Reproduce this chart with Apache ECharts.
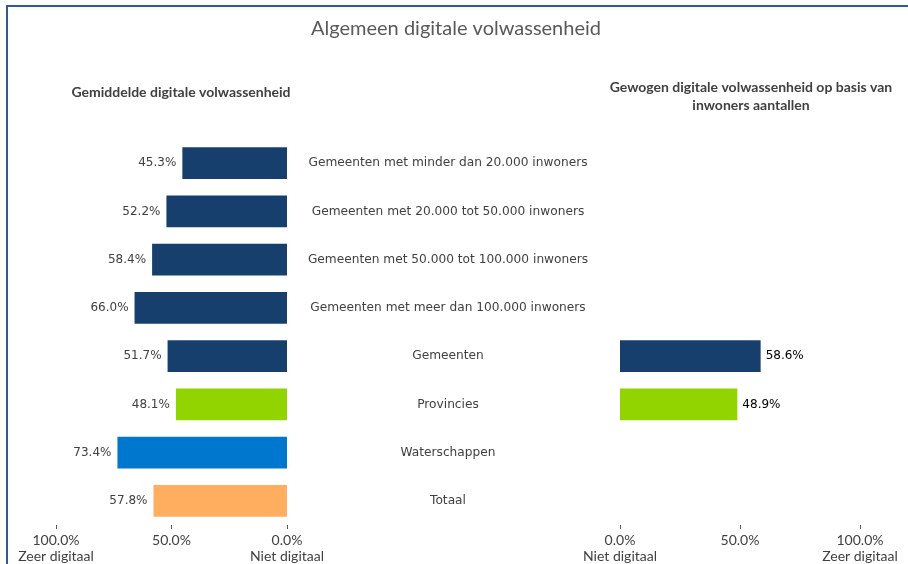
<!DOCTYPE html>
<html>
<head>
<meta charset="utf-8">
<script src="https://cdn.jsdelivr.net/npm/echarts@6/dist/echarts.min.js"></script>
<style>
  html, body { margin: 0; padding: 0; background: #fff; }
  #chart { width: 908px; height: 564px; }
</style>
</head>
<body>
<div id="chart"></div>
<script>
// categorieen (van boven naar beneden)
var categories = [
    'Gemeenten met minder dan 20.000 inwoners',
    'Gemeenten met 20.000 tot 50.000 inwoners',
    'Gemeenten met 50.000 tot 100.000 inwoners',
    'Gemeenten met meer dan 100.000 inwoners',
    'Gemeenten',
    'Provincies',
    'Waterschappen',
    'Totaal'
];
// gemiddelde digitale volwassenheid (%)
var gemiddeld = [45.3, 52.2, 58.4, 66.0, 51.7, 48.1, 73.4, 57.8];
// gewogen op basis van inwoners aantallen (%)
var gewogen = [null, null, null, null, 58.6, 48.9, null, null];
// kleur per categorie
var barColors = ['#173f6e', '#173f6e', '#173f6e', '#173f6e', '#173f6e', '#92d400', '#0077cf', '#ffae60'];
var tickLabels = { 0: 'Niet digitaal', 100: 'Zeer digitaal' };

var myChart = echarts.init(document.getElementById('chart'));

function colored(values) {
    return values.map(function (v, i) {
        return { value: v, itemStyle: { color: barColors[i] } };
    });
}

function axisFmt(v) {
    var s = v.toFixed(1) + '%';
    if (tickLabels[v]) { s += '\n' + tickLabels[v]; }
    return s;
}

var valueAxisCommon = {
    type: 'value',
    min: 0,
    max: 100,
    interval: 50,
    splitLine: { show: false },
    axisLine: { show: false },
    axisTick: { show: true, length: 4, lineStyle: { color: '#595959' } },
    axisLabel: {
        formatter: axisFmt,
        color: '#404040',
        fontFamily: 'Lato',
        fontSize: 14,
        lineHeight: 16,
        margin: 7
    }
};

var option = {
    animation: false,
    textStyle: { fontFamily: 'DejaVu Sans' },
    title: [
        {
            text: 'Algemeen digitale volwassenheid',
            left: 451, top: 14, textAlign: 'center',
            textStyle: { fontFamily: 'Lato', fontSize: 20, fontWeight: 'normal', color: '#595959' }
        },
        {
            text: 'Gemiddelde digitale volwassenheid',
            left: 176, top: 80, textAlign: 'center',
            textStyle: { fontFamily: 'Lato', fontSize: 14, fontWeight: 'bold', color: '#404040' }
        },
        {
            text: 'Gewogen digitale volwassenheid op basis van\ninwoners aantallen',
            left: 746, top: 73, textAlign: 'center',
            textStyle: { fontFamily: 'Lato', fontSize: 14, fontWeight: 'bold', color: '#404040', lineHeight: 18, align: 'center' }
        }
    ],
    graphic: [{
        type: 'rect',
        shape: { x: 7, y: 6, width: 920, height: 600 },
        style: { fill: 'none', stroke: '#2f5b8e', lineWidth: 2 },
        silent: true
    }],
    grid: [
        { left: 56, width: 231, top: 139, height: 386 },
        { left: 620, width: 240, top: 139, height: 386 }
    ],
    xAxis: [
        Object.assign({ gridIndex: 0, inverse: true }, valueAxisCommon),
        Object.assign({ gridIndex: 1 }, valueAxisCommon)
    ],
    yAxis: [
        {
            type: 'category', gridIndex: 0, data: categories, inverse: true, position: 'right',
            axisLine: { show: false }, axisTick: { show: false },
            axisLabel: { align: 'center', margin: 161, color: '#404040', fontSize: 12.2, fontFamily: 'DejaVu Sans' }
        },
        {
            type: 'category', gridIndex: 1, data: categories, inverse: true,
            axisLine: { show: false }, axisTick: { show: false }, axisLabel: { show: false }
        }
    ],
    series: [
        {
            type: 'bar', xAxisIndex: 0, yAxisIndex: 0,
            data: colored(gemiddeld),
            barCategoryGap: '34%',
            label: {
                show: true, position: 'left', distance: 6,
                formatter: function (p) { return p.value.toFixed(1) + '%'; },
                color: '#404040', fontSize: 12, fontFamily: 'DejaVu Sans'
            }
        },
        {
            type: 'bar', xAxisIndex: 1, yAxisIndex: 1,
            data: colored(gewogen),
            barCategoryGap: '34%',
            label: {
                show: true, position: 'right', distance: 5,
                formatter: function (p) { return p.value.toFixed(1) + '%'; },
                color: '#000', fontSize: 12, fontFamily: 'DejaVu Sans'
            }
        }
    ]
};
myChart.setOption(option);
</script>
</body>
</html>
